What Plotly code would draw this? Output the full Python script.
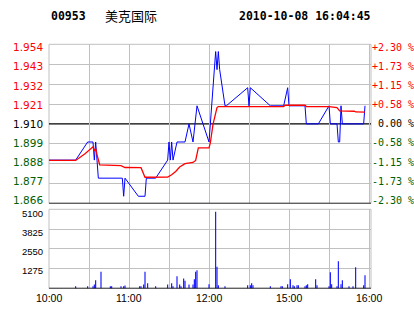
import plotly.graph_objects as go

W, H = 414, 314

# ---------------- data ----------------
stock_code = "00953"
stock_name = "美克国际"
stamp = "2010-10-08 16:04:45"

# minute index since 10:00 (morning 10:00-12:30, afternoon 14:30-16:00)
blue_min = [0, 20, 29, 33, 34, 35, 36, 37, 55, 56, 57, 67, 72, 73, 80, 89, 90, 91, 92, 93, 96,
            102, 105, 108, 111, 120, 121, 122, 123, 124, 125, 126, 127, 128, 130, 132, 133, 149,
            150, 151, 166, 176, 179, 180, 192, 193, 202, 210, 211, 216, 217, 218, 219, 220, 236, 237]
blue_px = [1.89, 1.89, 1.90, 1.90, 1.89, 1.90, 1.89, 1.88, 1.88, 1.87, 1.88, 1.87, 1.87, 1.88, 1.88,
           1.89, 1.90, 1.89, 1.90, 1.89, 1.90, 1.90, 1.91, 1.90, 1.92, 1.90, 1.91, 1.92, 1.93, 1.94,
           1.95, 1.94, 1.95, 1.94, 1.93, 1.92, 1.92, 1.93, 1.92, 1.93, 1.92, 1.92, 1.93, 1.92, 1.92,
           1.91, 1.91, 1.92, 1.91, 1.91, 1.90, 1.90, 1.92, 1.91, 1.91, 1.92]

red_min = [0, 20, 27, 33, 34, 35, 36, 37, 38, 54, 57, 69, 72, 89, 92, 95, 98, 102, 108, 110, 111,
           112, 120, 121, 123, 125, 126, 127, 176, 177, 192, 193, 210, 216, 217, 218, 229, 230, 237]
red_px = [1.8898, 1.8898, 1.8935, 1.8973, 1.8950, 1.8965, 1.8930, 1.8895, 1.8874, 1.8869, 1.8859,
          1.8858, 1.8805, 1.8806, 1.8819, 1.8837, 1.8862, 1.8880, 1.8887, 1.8898, 1.8940, 1.8967,
          1.8967, 1.8995, 1.9097, 1.9162, 1.9190, 1.9196, 1.9196, 1.9203, 1.9203, 1.9196, 1.9196,
          1.9190, 1.9182, 1.9172, 1.9170, 1.9166, 1.9165]

vol_min = [20, 29, 33, 34, 35, 39, 46, 47, 54, 56, 57, 68, 69, 71, 72, 74, 80, 89, 92, 93, 96, 98,
           99, 101, 102, 105, 108, 109, 110, 111, 120, 125, 126, 127, 132, 149, 151, 152, 153, 166,
           174, 175, 179, 181, 183, 184, 186, 187, 192, 193, 194, 200, 201, 210, 211, 212, 216, 217,
           219, 220, 225, 228, 230, 236, 237]
vol_val = [150, 150, 150, 260, 535, 1075, 150, 150, 150, 150, 200, 150, 150, 260, 1075, 343, 150,
           260, 343, 150, 795, 260, 150, 650, 495, 260, 260, 600, 1075, 1180, 280, 4940, 1400, 215,
           150, 215, 215, 343, 215, 150, 150, 150, 280, 600, 215, 150, 215, 215, 150, 215, 280, 600,
           215, 150, 1050, 280, 150, 1760, 280, 535, 150, 150, 1375, 215, 860]

prev_close = 1.910
price_ticks = [1.954, 1.943, 1.932, 1.921, 1.910, 1.899, 1.888, 1.877, 1.866]
pct_labels = ["+2.30 %", "+1.73 %", "+1.15 %", "+0.58 %", "\u00a00.00 %",
              "-0.58 %", "-1.15 %", "-1.73 %", "-2.30 %"]
vol_ticks = [5100, 3825, 2550, 1275]
grid_min = [0, 30, 60, 90, 120, 150, 180, 210, 240]
time_ticks = [0, 60, 120, 180, 240]
time_labels = ["10:00", "11:00", "12:00", "15:00", "16:00"]

# ---------------- layout geometry (pixels) ----------------
X0, X1 = 49, 371
P_TOP, P_BOT = 44.3, 203.5
V_TOP, V_BOT = 209.3, 288.5
RED, GREEN, BLUE, GRID = "#ff0000", "#006000", "#0000ff", "#c0c0c0"


def py(p):
    return 1 - p / H


def px(p):
    return p / W


fig = go.Figure()
fig.add_trace(go.Scatter(x=blue_min, y=blue_px, mode="lines", xaxis="x", yaxis="y",
                         line=dict(color=BLUE, width=1)))
fig.add_trace(go.Scatter(x=red_min, y=red_px, mode="lines", xaxis="x", yaxis="y",
                         line=dict(color=RED, width=1.3)))
fig.add_trace(go.Bar(x=vol_min, y=vol_val, xaxis="x2", yaxis="y2", width=0.8,
                     marker=dict(color=BLUE, line=dict(width=0))))

xr = [0, (X1 - X0) * 30 / 40]
common_x = dict(domain=[px(X0), px(X1)], range=xr, tickvals=grid_min, showticklabels=False,
                showgrid=True, gridcolor=GRID, gridwidth=1, zeroline=False, showline=False,
                ticks="", fixedrange=True)
grid_prices = [p for p in price_ticks if abs(p - prev_close) > 1e-9 and p != price_ticks[-1]]
fig.update_layout(
    width=W, height=H, margin=dict(l=0, r=0, t=0, b=0),
    paper_bgcolor="white", plot_bgcolor="white", showlegend=False, hovermode=False,
    xaxis=dict(anchor="y", **common_x),
    xaxis2=dict(anchor="y2", **common_x),
    yaxis=dict(domain=[py(P_BOT), py(P_TOP)], range=[price_ticks[-1], price_ticks[0]],
               tickvals=grid_prices, showticklabels=False, showgrid=True, gridcolor=GRID,
               zeroline=False, ticks="", anchor="x"),
    yaxis2=dict(domain=[py(V_BOT), py(V_TOP)], range=[0, vol_ticks[0]],
                tickvals=vol_ticks, showticklabels=False, showgrid=True, gridcolor=GRID,
                zeroline=False, ticks="", anchor="x2"),
)

shapes = [
    dict(type="rect", xref="x domain", yref="y domain", x0=0, x1=1, y0=0, y1=1,
         line=dict(color=GRID, width=1), layer="below"),
    dict(type="rect", xref="x2 domain", yref="y2 domain", x0=0, x1=1, y0=0, y1=1,
         line=dict(color=GRID, width=1), layer="below"),
    dict(type="line", xref="x domain", yref="y", x0=0, x1=1, y0=prev_close, y1=prev_close,
         line=dict(color="black", width=1.2), layer="below"),
    dict(type="line", xref="x domain", yref="y", x0=0, x1=1, y0=price_ticks[-1], y1=price_ticks[-1],
         line=dict(color="black", width=1.4)),
    dict(type="line", xref="x2 domain", yref="y2", x0=0, x1=1, y0=0, y1=0,
         line=dict(color="black", width=1.4)),
]
fig.update_layout(shapes=shapes)

ann = []
lab_top, lab_bot = 47.3, 200.3
step = (lab_bot - lab_top) / (len(price_ticks) - 1)
for i, (p, t) in enumerate(zip(price_ticks, pct_labels)):
    col = RED if p > prev_close + 1e-9 else (GREEN if p < prev_close - 1e-9 else "black")
    yc = py(lab_top + i * step)
    ann.append(dict(text=f"{p:.3f}", x=px(X0 - 4), y=yc, xref="paper", yref="paper",
                    xanchor="right", yanchor="middle", showarrow=False,
                    font=dict(family="DejaVu Sans", size=10.5, color=col)))
    ann.append(dict(text=t, x=px(X1 - 1), y=yc, xref="paper", yref="paper",
                    xanchor="left", yanchor="middle", showarrow=False,
                    font=dict(family="DejaVu Sans Mono", size=10, color=col)))

vstep = 19.2
for i, v in enumerate(vol_ticks):
    ann.append(dict(text=str(v), x=px(X0 - 4), y=py(213.3 + i * vstep), xref="paper", yref="paper",
                    xanchor="right", yanchor="middle", showarrow=False,
                    font=dict(family="Liberation Sans", size=9.5, color="black")))
for m, t in zip(time_ticks, time_labels):
    ann.append(dict(text=t, x=m, y=py(298.3), xref="x2", yref="paper",
                    xanchor="center", yanchor="middle", showarrow=False,
                    font=dict(family="Liberation Sans", size=10.5, color="black")))

hdr_y = py(16)
ann.append(dict(text=f"<b>{stock_code}</b>", x=px(49), y=hdr_y, xref="paper", yref="paper",
                xanchor="left", yanchor="middle", showarrow=False,
                font=dict(family="DejaVu Sans Mono", size=11.5, color="black")))
ann.append(dict(text=stock_name, x=px(103), y=hdr_y, xref="paper", yref="paper",
                xanchor="left", yanchor="middle", showarrow=False,
                font=dict(family="Noto Sans CJK SC", size=13, color="black")))
ann.append(dict(text=f"<b>{stamp}</b>", x=px(237), y=hdr_y, xref="paper", yref="paper",
                xanchor="left", yanchor="middle", showarrow=False,
                font=dict(family="DejaVu Sans Mono", size=11.5, color="black")))
fig.update_layout(annotations=ann)

fig.write_html("out.html", config={"displayModeBar": False, "staticPlot": True})
